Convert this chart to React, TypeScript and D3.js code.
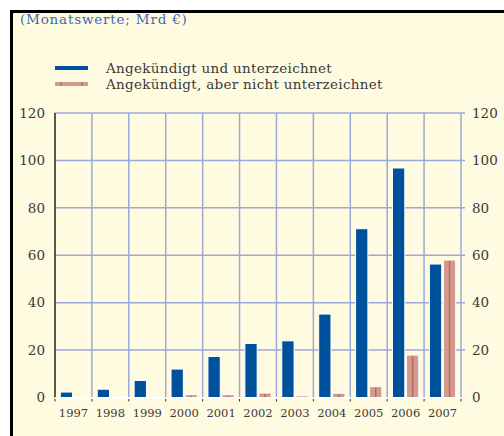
import React from 'react';
import * as d3 from 'd3';

const years = ['1997', '1998', '1999', '2000', '2001', '2002', '2003', '2004', '2005', '2006', '2007'];
const signed = [2.3, 3.5, 7.2, 12, 17.3, 22.8, 23.9, 35.2, 71.2, 96.8, 56.3];
const notSigned = [0, 0.3, 0.3, 1.2, 1.2, 1.9, 0.7, 1.8, 4.6, 17.9, 58];
const yTicks = [0, 20, 40, 60, 80, 100, 120];

const title = '(Monatswerte; Mrd €)';
const legendLabels = ['Angekündigt und unterzeichnet', 'Angekündigt, aber nicht unterzeichnet'];

const W = 504;
const H = 436;
const BLUE = '#00519c';
const PINK = '#d39a8e';
const PINK_DARK = '#b2564b';
const GRID = '#9ba8d8';
const TEXT = '#3a3a3a';
const FONT = '"DejaVu Serif", serif';

const App: React.FC = () => {
  const margin = { left: 55, right: 43, top: 113, bottom: 38 };
  const x = d3.scaleBand<string>()
    .domain(years)
    .range([margin.left, W - margin.right])
    .paddingInner(0)
    .paddingOuter(0);
  const y = d3.scaleLinear().domain([0, 120]).range([H - margin.bottom - 0.5, margin.top]);
  const x1 = d3.scaleBand<string>()
    .domain(['a', 'b'])
    .range([0, x.bandwidth()])
    .paddingInner(0.12)
    .paddingOuter(0.38);

  const boundaries = years.map(d => x(d) as number).concat([W - margin.right]);

  return (
    <svg width={W} height={H} style={{ position: 'absolute', left: 0, top: 0 }}>
      <rect x={0} y={0} width={W} height={H} fill="#ffffff" />
      <rect x={11} y={11} width={W - 11} height={H - 11} fill="#fffbe0" />
      <line x1={10} x2={W} y1={11.5} y2={11.5} stroke="#000" strokeWidth={3} />
      <line x1={11.5} x2={11.5} y1={10} y2={H} stroke="#000" strokeWidth={3} />

      <text x={20} y={24} fontFamily={FONT} fontSize={13.5} letterSpacing={0.8} fill="#3a6bb4">{title}</text>

      {/* legend */}
      <line x1={55} x2={88} y1={68} y2={68} stroke={BLUE} strokeWidth={4} />
      <text x={106} y={72.5} fontFamily={FONT} fontSize={13.5} letterSpacing={0.3} fill={TEXT}>{legendLabels[0]}</text>
      <line x1={55} x2={88} y1={84} y2={84} stroke={PINK} strokeWidth={4} />
      <line x1={61} x2={61} y1={82} y2={86} stroke={PINK_DARK} strokeWidth={1} />
      <line x1={82} x2={82} y1={82} y2={86} stroke={PINK_DARK} strokeWidth={1} />
      <text x={106} y={88.5} fontFamily={FONT} fontSize={13.5} letterSpacing={0.3} fill={TEXT}>{legendLabels[1]}</text>

      {/* grid */}
      {yTicks.filter(t => t > 0).map(t => (
        <line key={'h' + t} x1={margin.left} x2={W - margin.right + 4} y1={y(t)} y2={y(t)}
          stroke={GRID} strokeWidth={1.5} />
      ))}
      {boundaries.slice(1).map((bx, i) => (
        <line key={'v' + i} x1={bx} x2={bx} y1={y(120)} y2={y(0)} stroke={GRID} strokeWidth={1.5} />
      ))}
      <line x1={margin.left} x2={margin.left} y1={y(120)} y2={y(0)} stroke="#222" strokeWidth={1.5} />

      {/* bars */}
      {years.map((yr, i) => {
        const bx = x(yr) as number;
        const wb = x1.bandwidth();
        const xa = bx + (x1('a') as number);
        const xb = bx + (x1('b') as number);
        return (
          <g key={yr}>
            <rect x={xa} y={y(signed[i])} width={wb} height={y(0) - y(signed[i])}
              fill={BLUE} stroke="#ffffff" strokeWidth={1} />
            {notSigned[i] > 0 && (
              <rect x={xb} y={y(notSigned[i])} width={wb} height={y(0) - y(notSigned[i])}
                fill={PINK} stroke="#ffffff" strokeWidth={1} />
            )}
            {notSigned[i] > 1 && (
              <line x1={xb + wb / 2} x2={xb + wb / 2} y1={y(notSigned[i]) + 1} y2={y(0)}
                stroke={PINK_DARK} strokeWidth={1.5} opacity={0.7} />
            )}
          </g>
        );
      })}
      <line x1={margin.left} x2={W - margin.right} y1={y(0) + 0.5} y2={y(0) + 0.5} stroke="#ffffff" strokeWidth={1.5} />

      {/* small ticks below axis */}
      {boundaries.map((bx, i) => (
        <line key={'t' + i} x1={bx} x2={bx} y1={y(0) + 1.5} y2={y(0) + 4} stroke="#333" strokeWidth={1} />
      ))}

      {/* axis labels */}
      {yTicks.map(t => (
        <text key={'l' + t} x={45} y={y(t)} dy="0.35em" textAnchor="end"
          fontFamily={FONT} fontSize={13.5} fill={TEXT}>{t}</text>
      ))}
      {yTicks.map(t => (
        <text key={'r' + t} x={472} y={y(t)} dy="0.35em" textAnchor="start"
          fontFamily={FONT} fontSize={13.5} fill={TEXT}>{t}</text>
      ))}
      {years.map(yr => (
        <text key={'x' + yr} x={(x(yr) as number) + x.bandwidth() / 2} y={417} textAnchor="middle"
          fontFamily={FONT} fontSize={11.5} fill={TEXT}>{yr}</text>
      ))}
    </svg>
  );
};

export default App;
